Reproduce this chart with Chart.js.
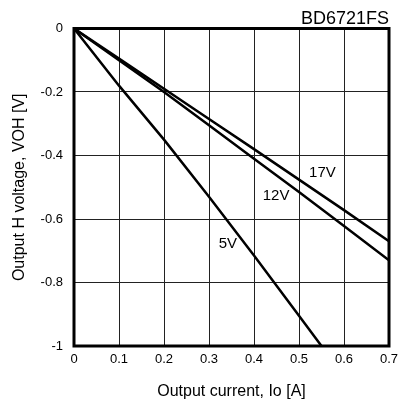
<!DOCTYPE html>
<html>
<head>
<meta charset="utf-8">
<script src="https://cdn.jsdelivr.net/npm/chart.js@4"></script>
<style>
html,body{margin:0;padding:0;background:#fff;}
#wrap{width:408px;height:401px;}
</style>
</head>
<body>
<div id="wrap"><canvas id="c" width="408" height="401"></canvas></div>
<script>
const current5=[0,0.1,0.2,0.3,0.4,0.5,0.55];
const volt5=[0,-0.18,-0.35,-0.53,-0.715,-0.905,-1.0];
const current12=[0,0.1,0.2,0.3,0.4,0.5,0.6,0.7];
const volt12=[0,-0.1,-0.2,-0.305,-0.41,-0.515,-0.622,-0.73];
const current17=[0,0.1,0.2,0.3,0.4,0.5,0.6,0.7];
const volt17=[0,-0.095,-0.19,-0.285,-0.38,-0.476,-0.572,-0.67];
const seriesNames=['5V','12V','17V'];
// where the curve labels sit, in data units
const labelX=[0.342,0.449,0.552];
const labelY=[-0.677,-0.528,-0.456];
const xTicks=[0,0.1,0.2,0.3,0.4,0.5,0.6,0.7];
const yTicks=[0,-0.2,-0.4,-0.6,-0.8,-1];

const pts=(xs,ys)=>xs.map((x,i)=>({x,y:ys[i]}));
const FONT='"Liberation Sans", Arial, sans-serif';

const frame={
id:'frame',
afterDatasetsDraw(chart){
const {ctx,chartArea:a,scales}=chart;
ctx.save();
ctx.strokeStyle='#000';ctx.lineWidth=3;
ctx.strokeRect(a.left,a.top,a.right-a.left,a.bottom-a.top);
ctx.fillStyle='#000';ctx.font='15px '+FONT;
ctx.textAlign='center';ctx.textBaseline='middle';
seriesNames.forEach((n,i)=>{
ctx.fillText(n,scales.x.getPixelForValue(labelX[i]),scales.y.getPixelForValue(labelY[i]));
});
ctx.restore();
}
};

new Chart(document.getElementById('c'),{
type:'scatter',
data:{datasets:[
{label:'5V',data:pts(current5,volt5)},
{label:'12V',data:pts(current12,volt12)},
{label:'17V',data:pts(current17,volt17)}
].map(d=>Object.assign(d,{showLine:true,borderColor:'#000',borderWidth:2.5,pointRadius:0,fill:false}))},
options:{
responsive:false,animation:false,
layout:{padding:{left:0,right:19,top:0,bottom:0}},
plugins:{
legend:{display:false},tooltip:{enabled:false},
title:{display:true,text:'BD6721FS',align:'end',color:'#000',font:{family:FONT,size:18,weight:'normal',lineHeight:1},padding:{top:10,bottom:0.5}}
},
scales:{
x:{type:'linear',min:0,max:0.7,
afterBuildTicks:s=>{s.ticks=xTicks.map(v=>({value:v}));},
afterFit:s=>{s.height=55;},
grid:{color:'#222',lineWidth:1,drawTicks:false},
border:{display:false},
ticks:{color:'#000',padding:6,font:{family:FONT,size:13},callback:v=>String(+v.toFixed(1))},
title:{display:true,text:'Output current, Io [A]',color:'#000',font:{family:FONT,size:16},padding:{top:0,bottom:0}}
},
y:{type:'linear',min:-1,max:0,
afterBuildTicks:s=>{s.ticks=yTicks.map(v=>({value:v}));},
afterFit:s=>{s.width=74;},
grid:{color:'#222',lineWidth:1,drawTicks:false},
border:{display:false},
ticks:{color:'#000',padding:11,font:{family:FONT,size:13},callback:v=>String(+v.toFixed(1))},
title:{display:true,text:'Output H voltage, VOH [V]',color:'#000',font:{family:FONT,size:16},padding:{top:10,bottom:10}}
}
}
},
plugins:[frame]
});
</script>
</body>
</html>
